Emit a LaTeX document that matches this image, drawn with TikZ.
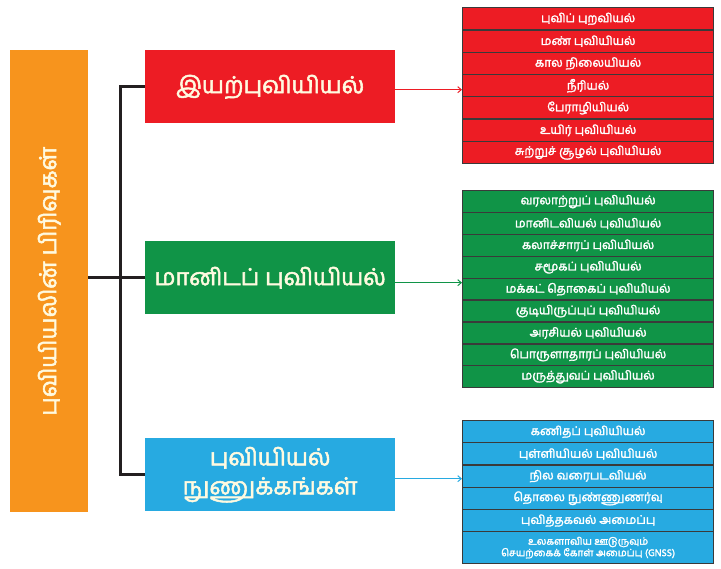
\documentclass[tikz,border=0pt]{standalone}
\usepackage{fontspec}
\newfontfamily\tam[Script=Tamil, FakeBold=2.2]{Hind Madurai}
\usetikzlibrary{arrows.meta}
\definecolor{cred}{HTML}{ED1C24}
\definecolor{cgrn}{HTML}{109447}
\definecolor{cblu}{HTML}{27AAE1}
\definecolor{corg}{HTML}{F7941D}
\definecolor{ccrm}{HTML}{FFFAE0}
\definecolor{cdark}{HTML}{231F20}
\definecolor{cedge}{HTML}{3A3A3A}
\tikzset{
  mainbox/.style={draw=none, minimum width=250pt, minimum height=73pt, anchor=north west,
    inner sep=0pt, text=ccrm, font=\tam\fontsize{23.5}{26}\selectfont, align=center},
  cell/.style={draw=cedge, line width=1.3pt, minimum width=251pt, anchor=north west,
    inner sep=0pt, text=white, font=\tam\fontsize{12}{13}\selectfont, align=center},
  trunk/.style={draw=cdark, line width=3pt},
  feed/.style={line width=1pt, -{Straight Barb[length=3.5pt,width=6pt]}}
}
\begin{document}
\begin{tikzpicture}[x=1pt,y=-1pt]
\path[use as bounding box] (0,0) rectangle (721,569);
% orange column
\node[fill=corg, minimum width=78pt, minimum height=462pt, anchor=north west, inner sep=0pt] (org) at (10,50) {};
\node[rotate=90, text=ccrm, font=\tam\fontsize{23.5}{26}\selectfont] (orgt) at (org.center) {புவியியலின் பிரிவுகள்};
% main boxes
\node[mainbox, fill=cred] (redm) at (145,50) {இயற்புவியியல்};
\node[mainbox, fill=cgrn] (grnm) at (145,241) {மானிடப் புவியியல்};
\node[mainbox, fill=cblu] (blum) at (145,438) {புவியியல்\\[3pt]நுணுக்கங்கள்};
% red list
\foreach \t [count=\i] in {புவிப் புறவியல், மண் புவியியல், கால நிலையியல், நீரியல், பேராழியியல், உயிர் புவியியல், சுற்றுச் சூழல் புவியியல்}
  \node[cell, fill=cred, minimum height=22.3pt] (r\i) at (462,{7+(\i-1)*22.3}) {\t};
% green list
\foreach \t [count=\i] in {வரலாற்றுப் புவியியல், மானிடவியல் புவியியல், கலாச்சாரப் புவியியல், சமூகப் புவியியல், மக்கட் தொகைப் புவியியல், குடியிருப்புப் புவியியல், அரசியல் புவியியல், பொருளாதாரப் புவியியல், மருத்துவப் புவியியல்}
  \node[cell, fill=cgrn, minimum height=21.9pt] (g\i) at (462,{190+(\i-1)*21.9}) {\t};
% blue list
\foreach \t [count=\i] in {கணிதப் புவியியல், புள்ளியியல் புவியியல், நில வரைபடவியல், தொலை நுண்ணுணர்வு, புவித்தகவல் அமைப்பு}
  \node[cell, fill=cblu, minimum height=22.2pt] (b\i) at (462,{420+(\i-1)*22.2}) {\t};
\node[cell, fill=cblu, minimum height=32pt, font=\tam\fontsize{10}{11.5}\selectfont] (b6) at (462,531) {உலகளாவிய ஊடுருவும்\\செயற்கைக் கோள் அமைப்பு (GNSS)};
% trunk connectors
\draw[trunk] (org.east |- grnm.west) -- (grnm.west);
\draw[trunk] (redm.west) -- ++(-25,0) |- (blum.west);
% feed arrows
\draw[feed, cred] ([yshift=-3pt]redm.east) -- ([yshift=-3pt]redm.east -| r1.west);
\draw[feed, cgrn] ([yshift=-5pt]grnm.east) -- ([yshift=-5pt]grnm.east -| g1.west);
\draw[feed, cblu] ([yshift=-4pt]blum.east) -- ([yshift=-4pt]blum.east -| b1.west);
\end{tikzpicture}
\end{document}
